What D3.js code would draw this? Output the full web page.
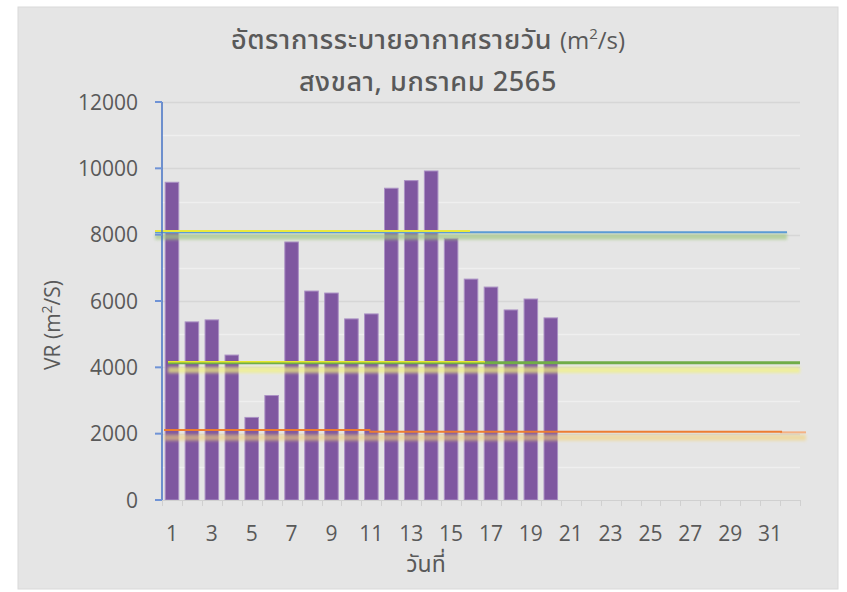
<!DOCTYPE html>
<html>
<head>
<meta charset="utf-8">
<script src="https://cdn.jsdelivr.net/npm/d3@7"></script>
<style>
  html, body { margin: 0; padding: 0; background: #ffffff; }
  svg { display: block; }
  .thai { font-family: "Noto Sans Thai", "Noto Sans Thai UI", "Leelawadee UI", Tahoma, Loma, Garuda, "Noto Sans", sans-serif; }
  .num { font-family: "Open Sans", "Noto Sans", sans-serif; }
</style>
</head>
<body>
<script>
// ---------------- DATA ----------------
const days = d3.range(1, 33);                       // category axis 1..32
const tickLabelDays = [1,3,5,7,9,11,13,15,17,19,21,23,25,27,29,31];
const vrValues = [9580, 5370, 5430, 4370, 2490, 3150, 7780, 6300, 6240, 5460,
                  5610, 9400, 9630, 9920, 7890, 6660, 6420, 5730, 6060, 5490];
const yTicks = [0, 2000, 4000, 6000, 8000, 10000, 12000];
const yMinorTicks = [1000, 3000, 5000, 7000, 9000, 11000];

// reference lines: value and start/end in day units
const refNames  = ["glow8000", "yellow8000", "blue8000", "glow4000", "green4000", "yellow4000",
                   "glow2000", "orangeLight2000", "orange2000b", "orange2000a"];
const refValues = [7940, 8110, 8075, 3920, 4140, 4165, 1880, 2040, 2060, 2110];
const refStart  = [0.15, 0.15, 0.15, 0.8, 0.8, 0.8, 0.6, 31.5, 10.9, 0.6];
const refEnd    = [31.85, 15.95, 31.85, 32.5, 32.5, 16.7, 32.8, 32.8, 31.6, 10.95];

const titleLine1 = "อัตราการระบายอากาศรายวัน";
const titleLine2 = "สงขลา, มกราคม 2565";
const xTitle = "วันที่";

// ---------------- STYLES ----------------
const refStyle = {
  glow8000:        { color: "#a3c884", width: 6, glow: true, opacity: 0.7 },
  yellow8000:      { color: "#e9e93c", width: 2 },
  blue8000:        { color: "#5b9bd5", width: 2 },
  glow4000:        { color: "#f1f17e", width: 6, glow: true, opacity: 0.7 },
  green4000:       { color: "#70ad47", width: 3 },
  yellow4000:      { color: "#e6e82c", width: 1.5 },
  glow2000:        { color: "#f3d37a", width: 6, glow: true, opacity: 0.6 },
  orangeLight2000: { color: "#f4b183", width: 2 },
  orange2000b:     { color: "#ed7d31", width: 2 },
  orange2000a:     { color: "#ed7d31", width: 2 }
};

const W = 847, H = 592;
const plot = { left: 162, right: 800, top: 102, bottom: 500 };
const textColor = "#595959";

const svg = d3.select("body").append("svg").attr("width", W).attr("height", H);

const defs = svg.append("defs");
defs.append("filter").attr("id", "glow")
  .attr("filterUnits", "userSpaceOnUse")
  .attr("x", 0).attr("y", 0).attr("width", W).attr("height", H)
  .append("feGaussianBlur").attr("stdDeviation", 1.8);

// chart background
svg.append("rect").attr("x", 18).attr("y", 7).attr("width", 820).attr("height", 582)
  .attr("fill", "#e5e5e5").attr("stroke", "#d9d9d9").attr("stroke-width", 1);

// scales
const x = d3.scaleBand().domain(days).range([plot.left, plot.right]).paddingInner(0.32).paddingOuter(0.16);
const xDay = d3.scaleLinear().domain([0.5, 32.5]).range([plot.left, plot.right]);
const y = d3.scaleLinear().domain([0, 12000]).range([plot.bottom, plot.top]);

// minor gridlines (lighter)
svg.append("g").selectAll("line").data(yMinorTicks).join("line")
  .attr("x1", plot.left).attr("x2", plot.right)
  .attr("y1", d => Math.round(y(d)) + 0.5).attr("y2", d => Math.round(y(d)) + 0.5)
  .attr("stroke", "#efefef").attr("stroke-width", 1.5);

// major gridlines
svg.append("g").selectAll("line").data(yTicks.filter(d => d > 0)).join("line")
  .attr("x1", plot.left).attr("x2", plot.right)
  .attr("y1", d => Math.round(y(d)) + 0.5).attr("y2", d => Math.round(y(d)) + 0.5)
  .attr("stroke", "#d6d6d6").attr("stroke-width", 1.5);

// bars
svg.append("g").selectAll("rect").data(vrValues).join("rect")
  .attr("x", (d, i) => x(days[i]))
  .attr("y", d => y(d))
  .attr("width", x.bandwidth())
  .attr("height", d => y(0) - y(d))
  .attr("fill", "#7f57a0")
  .attr("stroke", "#ab91c4").attr("stroke-width", 1);

// reference lines
const refData = refNames.map((n, i) => ({ name: n, v: refValues[i], s: refStart[i], e: refEnd[i] }));
const drawOrder = ["glow8000", "blue8000", "yellow8000", "glow4000", "green4000", "yellow4000",
                   "glow2000", "orangeLight2000", "orange2000b", "orange2000a"];
const gRef = svg.append("g");
drawOrder.forEach(n => {
  const d = refData.find(r => r.name === n);
  const st = refStyle[n];
  if (st.glow) {
    gRef.append("rect")
      .attr("x", xDay(d.s)).attr("width", xDay(d.e) - xDay(d.s))
      .attr("y", y(d.v) - st.width / 2).attr("height", st.width)
      .attr("fill", st.color).attr("opacity", st.opacity)
      .attr("filter", "url(#glow)");
  } else {
    gRef.append("line")
      .attr("x1", xDay(d.s)).attr("x2", xDay(d.e))
      .attr("y1", y(d.v)).attr("y2", y(d.v))
      .attr("stroke", st.color).attr("stroke-width", st.width);
  }
});

// x axis
const xAxisG = svg.append("g").attr("transform", `translate(0,${plot.bottom})`);
xAxisG.append("line").attr("x1", plot.left).attr("x2", plot.right).attr("y1", 0.5).attr("y2", 0.5)
  .attr("stroke", "#d0d0d0").attr("stroke-width", 1);
const bounds = d3.range(0, 33).map(i => xDay(i + 0.5));
xAxisG.selectAll("line.tk").data(bounds).join("line").attr("class", "tk")
  .attr("x1", d => Math.round(d) + 0.5).attr("x2", d => Math.round(d) + 0.5)
  .attr("y1", 0).attr("y2", 6).attr("stroke", "#d0d0d0");
xAxisG.selectAll("text").data(tickLabelDays).join("text")
  .attr("class", "num")
  .attr("x", d => x(d) + x.bandwidth() / 2)
  .attr("y", 41)
  .attr("text-anchor", "middle")
  .attr("font-size", 21).attr("fill", textColor)
  .text(d => d);

// y axis (blue)
const yAxisG = svg.append("g").attr("transform", `translate(${plot.left},0)`);
yAxisG.append("line").attr("x1", 0).attr("x2", 0).attr("y1", plot.top).attr("y2", plot.bottom)
  .attr("stroke", "#4472c4").attr("stroke-width", 1.5);
yAxisG.selectAll("line.tk").data(yTicks).join("line").attr("class", "tk")
  .attr("x1", -7).attr("x2", 0)
  .attr("y1", d => y(d)).attr("y2", d => y(d))
  .attr("stroke", "#6f93d6").attr("stroke-width", 2);
yAxisG.selectAll("text").data(yTicks).join("text")
  .attr("class", "num")
  .attr("x", -24).attr("y", d => y(d))
  .attr("dy", "0.36em")
  .attr("text-anchor", "end")
  .attr("font-size", 21).attr("fill", textColor)
  .text(d => d);

// y axis title
const yt = svg.append("text").attr("class", "num")
  .attr("transform", "translate(60,325) rotate(-90)")
  .attr("text-anchor", "middle").attr("font-size", 21).attr("fill", textColor);
yt.append("tspan").text("VR (m");
yt.append("tspan").attr("font-size", 14).attr("dy", -8).text("2");
yt.append("tspan").attr("dy", 8).text("/S)");

// x axis title
svg.append("text").attr("class", "thai")
  .attr("x", 426).attr("y", 572).attr("text-anchor", "middle")
  .attr("font-size", 23).attr("fill", textColor).text(xTitle);

// chart title
const t1 = svg.append("text").attr("x", 428).attr("y", 49).attr("text-anchor", "middle").attr("fill", textColor);
t1.append("tspan").attr("class", "thai").attr("font-size", 27).attr("font-weight", 500)
  .attr("letter-spacing", 0.6).text(titleLine1 + " ");
t1.append("tspan").attr("class", "num").attr("font-size", 24).text("(m");
t1.append("tspan").attr("class", "num").attr("font-size", 15).attr("dy", -10).text("2");
t1.append("tspan").attr("class", "num").attr("font-size", 24).attr("dy", 10).text("/s)");

svg.append("text").attr("class", "thai")
  .attr("x", 428).attr("y", 91).attr("text-anchor", "middle")
  .attr("font-size", 27).attr("font-weight", 500).attr("letter-spacing", 0.6)
  .attr("fill", textColor).text(titleLine2);
</script>
</body>
</html>
